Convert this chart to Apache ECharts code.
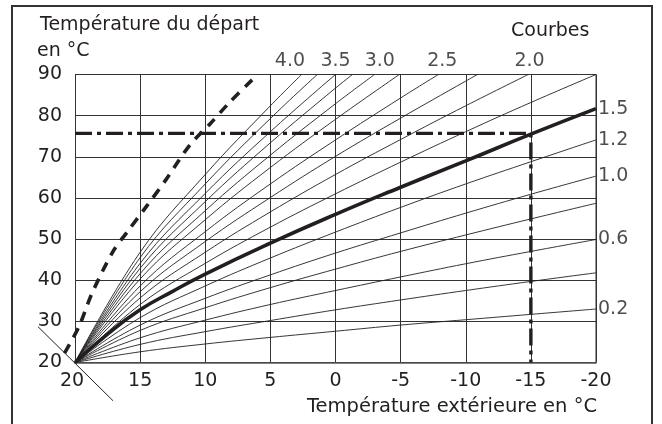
<!DOCTYPE html>
<html>
<head>
<meta charset="utf-8">
<script src="https://cdn.jsdelivr.net/npm/echarts@6/dist/echarts.min.js"></script>
<style>
html,body{margin:0;padding:0;background:#fff;}
#chart{width:662px;height:424px;}
</style>
</head>
<body>
<div id="chart"></div>
<script>
// Outdoor temperature sample points (°C)
const outdoorTemps = [20, 15, 10, 5, 0, -5, -10, -15, -20];
const yTicks = [20, 30, 40, 50, 60, 70, 80, 90];

// Heating curves that reach the right edge (flow temperature at each outdoor temp)
const curve02 = [20, 22.6, 24.5, 26.1, 27.6, 29.1, 30.4, 31.7, 33.0];
const curve04 = [20, 24.4, 27.5, 30.2, 32.8, 35.2, 37.5, 39.7, 41.8];
const curve06 = [20, 26.0, 30.3, 34.1, 37.5, 40.8, 44.0, 47.0, 49.9];
const curve08 = [20, 27.8, 33.3, 38.2, 42.7, 47.0, 51.0, 54.9, 58.7];
const curve10 = [20, 29.1, 35.6, 41.3, 46.6, 51.5, 56.3, 60.9, 65.3];
const curve12 = [20, 30.9, 38.6, 45.4, 51.7, 57.7, 63.4, 68.8, 74.1];
const curve175 = [20, 34.1, 44.1, 52.9, 61.0, 68.7, 76.1, 83.2, 90.0];

// Highlighted curve 1.5 (read more densely)
const curve15X = [20, 17.5, 15, 12.5, 10, 5, 0, -5, -10, -15, -20];
const curve15Y = [20, 26.9, 32.8, 37.3, 41.5, 49.0, 56.0, 62.6, 69.0, 75.5, 81.7];

// Heating curves that leave through the top (values at sample points, then exit temp at 90 °C)
const curve20 = [20, 35.7, 46.8, 56.6, 65.7, 74.2, 82.4];
const curve225 = [20, 37.2, 49.4, 60.1, 70.1, 79.4, 88.4];
const curve25 = [20, 38.6, 51.8, 63.4, 74.1, 84.3];
const curve275 = [20, 40.3, 54.7, 67.4, 79.1];
const curve30 = [20, 41.6, 56.9, 70.4, 82.9];
const curve325 = [20, 42.9, 59.1, 73.4, 86.7];
const curve35 = [20, 44.1, 61.1, 76.1, 90.0];
const curve375 = [20, 45.5, 63.4, 79.3];
const curve40 = [20, 46.8, 65.7, 82.4];
const topExitTemps = { c20: -14.8, c225: -10.9, c25: -7.9, c275: -4.9, c30: -3.0, c325: -1.3, c375: 1.4, c40: 2.6 };

// Thick dashed limit curve
const limitX = [20.8, 19.7, 18.7, 17.1, 16.0, 14.5, 13.0, 11.2, 9.6, 8.2, 6.4];
const limitY = [22.3, 28.7, 36.8, 46.9, 51.7, 58.0, 64.5, 72.8, 78.1, 83.0, 88.7];

// Example design point (dash-dot)
const designOutdoor = -15;
const designFlow = 75.7;

// Room temperature shift axis (diagonal)
const shiftX = [22.84, 17.08];
const shiftY = [28.7, 10.7];

// Curve labels
const rightLabelNames = ['1.5', '1.2', '1.0', '0.6', '0.2'];
const rightLabelY = [81.7, 74.1, 65.3, 49.9, 33.0];
const topLabelNames = ['4.0', '3.5', '3.0', '2.5', '2.0'];
const topLabelX = [3.5, 0, -3.4, -8.2, -14.9];

const FONT = 'DejaVu Sans';
const INK = '#231f20';

function toPts(vals, exit) {
  const pts = vals.map((v, i) => [outdoorTemps[i], v]);
  if (exit !== undefined) pts.push([exit, 90]);
  return pts;
}

const thinCurves = [
  toPts(curve02), toPts(curve04), toPts(curve06), toPts(curve08), toPts(curve10), toPts(curve12),
  toPts(curve175),
  toPts(curve20, topExitTemps.c20), toPts(curve225, topExitTemps.c225), toPts(curve25, topExitTemps.c25),
  toPts(curve275, topExitTemps.c275), toPts(curve30, topExitTemps.c30), toPts(curve325, topExitTemps.c325),
  toPts(curve35), toPts(curve375, topExitTemps.c375), toPts(curve40, topExitTemps.c40)
];

const series = [];
thinCurves.forEach(d => series.push({
  type: 'line', data: d, symbol: 'none', smooth: 0.4, silent: true,
  lineStyle: { color: INK, width: 0.9 }, z: 3
}));
series.push({
  type: 'line', data: curve15X.map((x, i) => [x, curve15Y[i]]), symbol: 'none', smooth: 0.5, silent: true,
  lineStyle: { color: INK, width: 3.6 }, z: 4
});
// Unclipped overlay lines drawn through the axes' coordinate mapping
series.push({
  type: 'custom', silent: true, clip: false, z: 6,
  data: [[0, 50]],
  renderItem: function (params, api) {
    const limitPts = limitX.map((x, i) => api.coord([x, limitY[i]]));
    const shiftPts = shiftX.map((x, i) => api.coord([x, shiftY[i]]));
    return {
      type: 'group',
      children: [
        { type: 'polyline', shape: { points: limitPts, smooth: 0.3 },
          style: { stroke: INK, lineWidth: 3.6, lineDash: [10, 8], fill: null } },
        { type: 'polyline', shape: { points: shiftPts },
          style: { stroke: INK, lineWidth: 1, fill: null } }
      ]
    };
  }
});
series.push({
  type: 'line', data: [[20, designFlow], [designOutdoor, designFlow], [designOutdoor, 20]], symbol: 'none',
  lineStyle: { color: INK, width: 3.4, type: [17, 5, 4, 5] }, z: 5
});
series.push({
  type: 'scatter', symbolSize: 0, clip: false, silent: true,
  data: rightLabelNames.map((n, i) => ({ name: n, value: [-20, rightLabelY[i]] })),
  label: { show: true, position: 'right', distance: 2, formatter: '{b}', fontSize: 19, fontFamily: FONT, color: INK }
});
series.push({
  type: 'scatter', symbolSize: 0, clip: false, silent: true,
  data: topLabelNames.map((n, i) => ({ name: n, value: [topLabelX[i], 90] })),
  label: { show: true, position: 'top', distance: 4, formatter: '{b}', fontSize: 19, fontFamily: FONT, color: INK }
});

const chart = echarts.init(document.getElementById('chart'), null, { renderer: 'canvas' });
chart.setOption({
  animation: false,
  backgroundColor: '#fff',
  grid: { left: 75, top: 74.5, width: 521, height: 288, show: false },
  xAxis: {
    type: 'value', min: -20, max: 20, interval: 5, inverse: true,
    axisLine: { show: true, lineStyle: { color: '#555', width: 1.6 } },
    axisTick: { show: false },
    splitLine: { show: true, lineStyle: { color: '#333', width: 1 } },
    axisLabel: {
      fontSize: 19, fontFamily: FONT, color: INK, margin: 9,
      formatter: v => (v === 20 ? '20 ' : String(v))
    }
  },
  yAxis: {
    type: 'value', min: yTicks[0], max: yTicks[yTicks.length - 1], interval: 10,
    axisLine: { show: true, lineStyle: { color: '#333', width: 1 } },
    axisTick: { show: false },
    splitLine: { show: true, lineStyle: { color: '#333', width: 1 } },
    axisLabel: { fontSize: 19, fontFamily: FONT, color: INK, margin: 13 }
  },
  graphic: [
    { type: 'rect', shape: { x: 12, y: 6, width: 640, height: 440 }, style: { fill: 'none', stroke: '#333', lineWidth: 2 }, z: 0 },
    { type: 'line', shape: { x1: 596, y1: 74.5, x2: 596, y2: 362.5 }, style: { stroke: '#333', lineWidth: 1 }, z: 1 },
    { type: 'text', style: { text: 'Température du départ', x: 40, y: 25, fontSize: 19, fontFamily: FONT, fill: INK, verticalAlign: 'middle' } },
    { type: 'text', style: { text: 'en °C', x: 37, y: 51, fontSize: 19, fontFamily: FONT, fill: INK, verticalAlign: 'middle' } },
    { type: 'text', style: { text: 'Courbes', x: 511, y: 31.5, fontSize: 19, fontFamily: FONT, fill: INK, verticalAlign: 'middle' } },
    { type: 'text', style: { text: 'Température extérieure en °C', x: 597, y: 407, fontSize: 19.5, fontFamily: FONT, fill: INK, align: 'right', verticalAlign: 'middle' } }
  ],
  series: series
});
</script>
</body>
</html>
